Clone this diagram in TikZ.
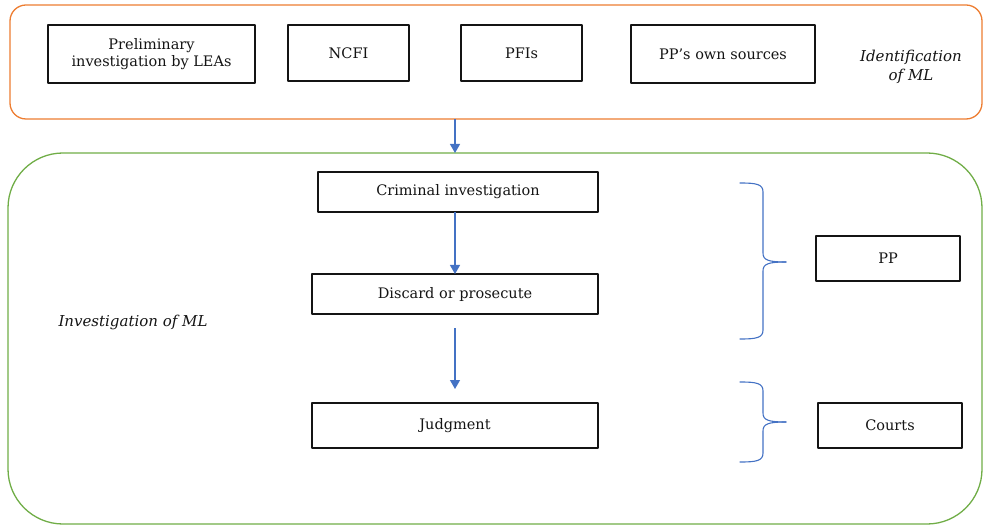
\documentclass[tikz,border=0pt]{standalone}
\usepackage{fontspec}
\setmainfont{DejaVu Serif}
\usetikzlibrary{arrows.meta,positioning}
\definecolor{FlowOrange}{HTML}{ED7D31}
\definecolor{FlowGreen}{HTML}{70AD47}
\definecolor{FlowBlue}{HTML}{4472C4}
\definecolor{FlowInk}{gray}{0.08}
\tikzset{
    aml/diagram/.style={
        x=1pt, y=-1pt,
        font=\fontsize{14.5}{17}\selectfont,
        text=FlowInk,
        line join=round,
        every node/.style={inner sep=2pt, outer sep=0pt}
    },
    aml/frame/.style={rectangle, line width=1.3pt, inner sep=0pt},
    aml/stage/.style={
        rectangle, draw=FlowInk, line width=1.4pt, align=center
    },
    aml/caption/.style={
        font=\fontsize{15}{19}\selectfont\itshape, align=center
    },
    aml/flow/.style={
        draw=FlowBlue, line width=1.2pt,
        -{Triangle[length=9pt, width=10pt]}
    },
    aml/brace/.style={draw=FlowBlue, line width=1.1pt, line cap=round}
}

\begin{document}
\begin{tikzpicture}[aml/diagram]
    \useasboundingbox (0,0) rectangle (984,526);

    % Identification stage.
    \node[aml/frame, draw=FlowOrange, rounded corners=16pt,
          minimum width=972pt, minimum height=114pt] (identframe) at (496,62) {};
    \node[aml/stage, minimum width=207pt, minimum height=58pt] (prelim) at (151.5,54)
        {Preliminary\\investigation by LEAs};
    \node[aml/stage, minimum width=121pt, minimum height=56pt] (ncfi) at (348.5,53) {NCFI};
    \node[aml/stage, minimum width=121pt, minimum height=56pt] (pfis) at (521.5,53) {PFIs};
    \node[aml/stage, minimum width=184pt, minimum height=58pt] (ownsrc) at (723,54)
        {PP's own sources};
    \node[aml/caption] (identcap) at (911,67) {Identification\\of ML};

    % Investigation stage.
    \node[aml/frame, draw=FlowGreen, rounded corners=55pt,
          minimum width=974pt, minimum height=371pt] (investframe) at (495,338.5) {};
    \node[aml/stage, minimum width=280pt, minimum height=40pt] (crim) at (458,192)
        {Criminal investigation};
    \node[aml/stage, minimum width=286pt, minimum height=40pt] (discard) at (455,294)
        {Discard or prosecute};
    \node[aml/stage, minimum width=286pt, minimum height=45pt] (judgment) at (455,425.5)
        {Judgment};
    \node[aml/caption] (investcap) at (133,322) {Investigation of ML};
    \node[aml/stage, minimum width=144pt, minimum height=45pt] (pp) at (888,258.5) {PP};
    \node[aml/stage, minimum width=144pt, minimum height=45pt] (courts) at (890,425.5)
        {Courts};

    \draw[aml/flow] (identframe.south -| discard) -- (investframe.north -| discard);
    \draw[aml/flow] (crim.south -| discard) -- (discard.north);
    \draw[aml/flow, shorten <=14pt, shorten >=14pt] (discard.south) -- (judgment.north);

    % Braces towards PP and Courts.
    \foreach \top/\tip/\bot in {183/262/339, 382/422/462} {
        \draw[aml/brace] (740,\top) .. controls (756,\top) and (763,\top+1) .. (763,\top+9)
            -- (763,\tip-9) .. controls (763,\tip-2) and (768,\tip) .. (786,\tip);
        \draw[aml/brace] (740,\bot) .. controls (756,\bot) and (763,\bot-1) .. (763,\bot-9)
            -- (763,\tip+9) .. controls (763,\tip+2) and (768,\tip) .. (786,\tip);
    }
\end{tikzpicture}
\end{document}
